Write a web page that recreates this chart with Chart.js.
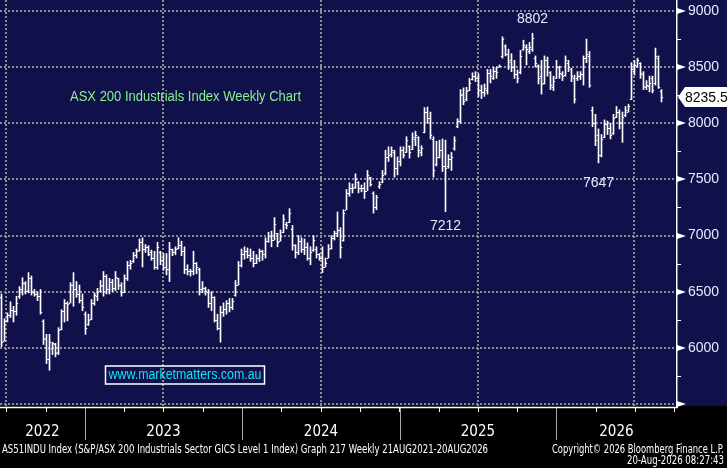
<!DOCTYPE html>
<html>
<head>
<meta charset="utf-8">
<script src="https://cdn.jsdelivr.net/npm/chart.js@4.4.0/dist/chart.umd.min.js"></script>
<style>
  html, body { margin: 0; padding: 0; background: #000; }
  #wrap { width: 727px; height: 468px; }
</style>
</head>
<body>
<div id="wrap"><canvas id="asxChart" width="727" height="468"></canvas></div>
<script>
// weekly bars, AS51INDU (visible window mid 2022 -> Aug 2026)
const opens = [
  6450, 6060, 6240, 6290, 6340, 6330, 6460, 6520, 6580, 6510,
  6620, 6500, 6480, 6460, 6240, 6090, 5900, 6000, 6030, 5960,
  6170, 6330, 6400, 6400, 6560, 6520, 6480, 6430, 6300, 6210,
  6260, 6400, 6460, 6510, 6560, 6640, 6520, 6590, 6530, 6620,
  6560, 6500, 6620, 6740, 6770, 6830, 6870, 6940, 6880, 6900,
  6850, 6800, 6720, 6850, 6780, 6720, 6700, 6880, 6850, 6890,
  6920, 6860, 6700, 6680, 6680, 6760, 6700, 6520, 6530, 6500,
  6400, 6450, 6250, 6180, 6320, 6350, 6400, 6360, 6470, 6560,
  6740, 6840, 6860, 6830, 6800, 6760, 6800, 6860, 6840, 6950,
  7000, 6960, 7020, 6950, 7030, 7100, 7120, 7060, 6920, 6850,
  6950, 6880, 6900, 6800, 6870, 6880, 6840, 6800, 6720, 6800,
  6890, 6980, 7020, 7050, 6960, 7230, 7380, 7420, 7430, 7480,
  7420, 7420, 7400, 7520, 7380, 7250, 7440, 7480, 7560, 7700,
  7730, 7740, 7600, 7660, 7760, 7740, 7800, 7770, 7860, 7880,
  7740, 7920, 8100, 8050, 7860, 7640, 7700, 7760, 7620, 7620,
  7680, 7780, 7980, 8020, 8260, 8220, 8300, 8390, 8420, 8400,
  8300, 8280, 8300, 8450, 8400, 8470, 8500, 8600, 8690, 8620,
  8560, 8500, 8440, 8460, 8660, 8680, 8640, 8660, 8580, 8520,
  8420, 8360, 8560, 8460, 8320, 8400, 8500, 8440, 8430, 8540,
  8480, 8400, 8400, 8420, 8440, 8580, 8600, 8120, 8000, 7900,
  7720, 7880, 7990, 7960, 7910, 8060, 8100, 8000, 8070, 8100,
  8220, 8470, 8510, 8540, 8440, 8320, 8330, 8400, 8360, 8580,
  8290
];
const highs = [
  6480, 6260, 6310, 6410, 6370, 6460, 6545, 6625, 6590, 6670,
  6640, 6520, 6500, 6520, 6250, 6120, 6120, 6050, 6040, 6180,
  6340, 6430, 6410, 6580, 6670, 6590, 6560, 6480, 6320, 6300,
  6430, 6490, 6530, 6600, 6680, 6650, 6620, 6610, 6680, 6620,
  6580, 6650, 6770, 6780, 6850, 6880, 6970, 6980, 6920, 6910,
  6870, 6860, 6940, 6860, 6840, 6840, 6940, 6880, 6900, 6980,
  6950, 6900, 6740, 6700, 6860, 6760, 6710, 6590, 6540, 6520,
  6500, 6455, 6300, 6370, 6400, 6420, 6440, 6440, 6600, 6770,
  6880, 6900, 6890, 6880, 6860, 6830, 6880, 6870, 6980, 7030,
  7040, 7160, 7020, 7050, 7185, 7120, 7240, 7090, 6920, 7000,
  6980, 6970, 6935, 6900, 7000, 6900, 6840, 6900, 6800, 6920,
  7000, 7040, 7210, 7070, 7230, 7410, 7470, 7460, 7550, 7480,
  7450, 7470, 7580, 7520, 7390, 7360, 7480, 7580, 7760, 7790,
  7790, 7760, 7700, 7790, 7790, 7880, 7800, 7915, 7930, 7880,
  7800, 8140, 8145, 8100, 7880, 7840, 7850, 7860, 7850, 7720,
  7740, 7880, 8040, 8300, 8315, 8320, 8400, 8450, 8460, 8440,
  8340, 8350, 8480, 8480, 8500, 8500, 8520, 8770, 8700, 8660,
  8620, 8560, 8475, 8650, 8740, 8700, 8720, 8802, 8600, 8520,
  8560, 8600, 8590, 8460, 8420, 8560, 8510, 8460, 8600, 8560,
  8490, 8430, 8460, 8460, 8600, 8750, 8640, 8145, 8080, 7950,
  7900, 8030, 8020, 8000, 8080, 8150, 8120, 8100, 8150, 8170,
  8540, 8560, 8580, 8540, 8460, 8380, 8420, 8420, 8670, 8600,
  8300
];
const lows = [
  6010, 6060, 6230, 6270, 6230, 6290, 6440, 6470, 6480, 6490,
  6470, 6460, 6420, 6300, 6030, 5860, 5800, 5940, 5920, 5940,
  6160, 6230, 6240, 6400, 6370, 6450, 6400, 6330, 6120, 6200,
  6250, 6380, 6420, 6500, 6460, 6480, 6480, 6500, 6510, 6520,
  6460, 6490, 6600, 6700, 6760, 6800, 6860, 6720, 6850, 6820,
  6780, 6700, 6700, 6740, 6690, 6650, 6590, 6820, 6830, 6880,
  6820, 6660, 6650, 6640, 6650, 6660, 6470, 6490, 6470, 6360,
  6330, 6230, 6160, 6050, 6280, 6300, 6320, 6340, 6460, 6560,
  6720, 6790, 6800, 6770, 6720, 6750, 6770, 6780, 6800, 6940,
  6900, 6960, 6900, 6950, 7025, 7060, 7115, 6870, 6800, 6830,
  6850, 6830, 6780, 6740, 6860, 6800, 6780, 6670, 6720, 6800,
  6880, 6960, 6990, 6800, 6950, 7230, 7350, 7380, 7420, 7380,
  7390, 7330, 7400, 7440, 7200, 7230, 7420, 7470, 7540, 7660,
  7700, 7520, 7540, 7620, 7690, 7740, 7690, 7765, 7800, 7700,
  7710, 7915, 8000, 7860, 7520, 7620, 7690, 7570, 7212, 7600,
  7580, 7760, 7960, 8000, 8165, 8200, 8290, 8385, 8370, 8240,
  8220, 8240, 8260, 8360, 8390, 8400, 8500, 8580, 8600, 8480,
  8460, 8400, 8360, 8440, 8650, 8520, 8620, 8640, 8500, 8350,
  8260, 8350, 8420, 8300, 8290, 8400, 8400, 8380, 8420, 8460,
  8370, 8180, 8380, 8390, 8340, 8540, 8320, 7970, 7800, 7647,
  7700, 7870, 7900, 7860, 7900, 8050, 7950, 7830, 8060, 8100,
  8210, 8430, 8500, 8400, 8300, 8300, 8280, 8270, 8340, 8310,
  8190
];
const closes = [
  6050, 6240, 6290, 6340, 6330, 6400, 6520, 6580, 6510, 6620,
  6500, 6480, 6460, 6320, 6080, 5900, 6050, 6040, 5950, 6160,
  6330, 6400, 6390, 6560, 6520, 6480, 6430, 6360, 6180, 6250,
  6400, 6470, 6500, 6550, 6640, 6520, 6590, 6530, 6630, 6560,
  6500, 6620, 6740, 6760, 6830, 6860, 6940, 6880, 6900, 6840,
  6800, 6720, 6900, 6780, 6720, 6700, 6880, 6850, 6880, 6920,
  6860, 6700, 6680, 6680, 6760, 6720, 6520, 6530, 6510, 6400,
  6450, 6250, 6180, 6320, 6350, 6400, 6360, 6420, 6560, 6740,
  6840, 6860, 6830, 6800, 6760, 6800, 6860, 6840, 6950, 7000,
  6960, 7100, 6940, 7000, 7150, 7090, 7200, 6920, 6850, 6950,
  6880, 6900, 6800, 6850, 6960, 6840, 6800, 6720, 6760, 6880,
  6980, 7020, 7050, 6900, 7200, 7380, 7420, 7420, 7500, 7420,
  7420, 7400, 7540, 7460, 7250, 7340, 7460, 7540, 7700, 7720,
  7760, 7600, 7660, 7760, 7720, 7850, 7740, 7880, 7900, 7760,
  7780, 8100, 8050, 7900, 7580, 7700, 7760, 7620, 7600, 7680,
  7700, 7850, 8020, 8250, 8200, 8290, 8360, 8420, 8400, 8300,
  8280, 8310, 8450, 8420, 8470, 8460, 8510, 8750, 8620, 8550,
  8500, 8440, 8400, 8600, 8700, 8660, 8680, 8760, 8540, 8400,
  8350, 8560, 8500, 8340, 8380, 8500, 8450, 8420, 8560, 8500,
  8420, 8220, 8420, 8440, 8580, 8620, 8340, 8000, 7850, 7720,
  7860, 7990, 7960, 7900, 8050, 8100, 8000, 8060, 8120, 8150,
  8480, 8520, 8560, 8450, 8330, 8340, 8360, 8300, 8600, 8320,
  8235.5
];

const yTicks = [5500, 6000, 6500, 7000, 7500, 8000, 8500, 9000];
const yMinorTicks = [5750, 6250, 6750, 7250, 7750, 8250, 8750];
// week index where each calendar year starts (2023..2026)
const yearStarts = [27.8, 80.2, 132.8, 184.8];
const yearLabels = ['2022', '2023', '2024', '2025', '2026'];
// highlighted extremes: [week, value, label]
const callouts = [[177, 8802, '8802'], [148, 7212, '7212'], [199, 7647, '7647']];
const lastPrice = 8235.5;

const weeks = closes.map((c, i) => i);
const navy = '#10104a';
const dotGrey = '#8e8e8e';
const labelColor = '#e4ebff';

const bbgLook = {
  id: 'bbgLook',
  beforeDraw(chart) {
    const ctx = chart.ctx;
    const area = chart.chartArea;
    ctx.save();
    ctx.fillStyle = navy;
    ctx.fillRect(0, 0, chart.width, chart.height);
    ctx.fillStyle = '#000';
    ctx.fillRect(0, area.bottom, chart.width, chart.height - area.bottom);
    ctx.restore();
  },
  afterDatasetsDraw(chart) {
    // open tick to the left, close tick to the right of each high-low bar
    const ctx = chart.ctx;
    const x = chart.scales.x, y = chart.scales.y;
    ctx.save();
    ctx.strokeStyle = '#fff';
    ctx.lineWidth = 1;
    ctx.beginPath();
    weeks.forEach(i => {
      const px = Math.floor(x.getPixelForValue(i));
      const yo = Math.round(y.getPixelForValue(opens[i])) + 0.5;
      const yc = Math.round(y.getPixelForValue(closes[i])) + 0.5;
      ctx.moveTo(px - 1.2, yo); ctx.lineTo(px, yo);
      ctx.moveTo(px + 1, yc); ctx.lineTo(px + 2.2, yc);
    });
    ctx.stroke();
    ctx.restore();
  },
  afterDraw(chart) {
    const ctx = chart.ctx;
    const area = chart.chartArea;
    const x = chart.scales.x, y = chart.scales.y;
    const axisX = area.right;
    const base = area.bottom;
    ctx.save();

    // y axis: arrows at major ticks, small marks at minor ticks
    ctx.fillStyle = '#fff';
    yTicks.forEach(v => {
      const py = Math.round(y.getPixelForValue(v));
      ctx.beginPath();
      ctx.moveTo(axisX, py - 3);
      ctx.lineTo(axisX + 9, py);
      ctx.lineTo(axisX, py + 3);
      ctx.closePath();
      ctx.fill();
    });
    ctx.strokeStyle = '#fff';
    ctx.lineWidth = 1;
    yMinorTicks.forEach(v => {
      const py = Math.round(y.getPixelForValue(v)) + 0.5;
      ctx.beginPath();
      ctx.moveTo(axisX, py); ctx.lineTo(axisX + 4, py);
      ctx.stroke();
    });

    // bottom time axis
    ctx.lineWidth = 1.5;
    ctx.beginPath();
    ctx.moveTo(0, base + 1.5); ctx.lineTo(axisX + 1, base + 1.5);
    ctx.stroke();
    const bounds = [area.left].concat(yearStarts.map(w => x.getPixelForValue(w)), [axisX]);
    const yearLen = x.getPixelForValue(yearStarts[1]) - x.getPixelForValue(yearStarts[0]);
    const first = x.getPixelForValue(yearStarts[0]);
    ctx.lineWidth = 1;
    for (let q = -4; q < 24; q++) {
      const qx = Math.round(first + q * yearLen / 4) + 0.5;
      if (qx < area.left || qx > axisX) continue;
      ctx.beginPath();
      ctx.moveTo(qx, base + 2); ctx.lineTo(qx, base + 6);
      ctx.stroke();
    }
    ctx.strokeStyle = '#a8a8a8';
    yearStarts.forEach(w => {
      const px = Math.round(x.getPixelForValue(w)) + 0.5;
      ctx.beginPath();
      ctx.moveTo(px, base + 2); ctx.lineTo(px, base + 34);
      ctx.stroke();
    });

    // year labels centred in their visible span
    ctx.fillStyle = '#fff';
    ctx.font = '15px "Liberation Sans Narrow", "DejaVu Sans Condensed", sans-serif';
    ctx.textAlign = 'center';
    ctx.textBaseline = 'middle';
    yearLabels.forEach((lab, k) => {
      ctx.fillText(lab, (bounds[k] + bounds[k + 1]) / 2, 432);
    });

    // footer
    ctx.font = '12px "Liberation Sans Narrow", "DejaVu Sans Condensed", sans-serif';
    ctx.textAlign = 'left';
    ctx.fillText('AS51INDU Index (S&P/ASX 200 Industrials Sector GICS Level 1 Index) Graph 217 Weekly 21AUG2021-20AUG2026', 2, 450, 486);
    ctx.textAlign = 'right';
    ctx.fillText('Copyright\u00a9 2026 Bloomberg Finance L.P.', 724, 450, 172);
    ctx.fillText('20-Aug-2026 08:27:43', 724, 461, 97);

    // high / low callouts
    ctx.font = '14px "Liberation Sans", Arial, sans-serif';
    ctx.fillStyle = labelColor;
    ctx.textAlign = 'center';
    callouts.forEach(([w, v, lab]) => {
      const px = x.getPixelForValue(w);
      const py = y.getPixelForValue(v);
      const dy = v === 8802 ? -14 : (v === 7212 ? 14 : 20);
      ctx.fillText(lab, px, py + dy);
    });

    // last price tag
    const ly = Math.round(y.getPixelForValue(lastPrice));
    ctx.fillStyle = '#fff';
    ctx.beginPath();
    ctx.moveTo(axisX + 1, ly);
    ctx.lineTo(axisX + 8, ly - 10);
    ctx.lineTo(727, ly - 10);
    ctx.lineTo(727, ly + 10);
    ctx.lineTo(axisX + 8, ly + 10);
    ctx.closePath();
    ctx.fill();
    ctx.fillStyle = '#000';
    ctx.textAlign = 'left';
    ctx.fillText(String(lastPrice), axisX + 8, ly + 1);

    // title and website box
    ctx.fillStyle = '#8cf08c';
    ctx.fillText('ASX 200 Industrials Index Weekly Chart', 70, 97, 231);
    ctx.strokeStyle = '#fff';
    ctx.lineWidth = 1.5;
    ctx.strokeRect(105.5, 366, 159, 18);
    ctx.fillStyle = '#10e4f0';
    ctx.textAlign = 'center';
    ctx.fillText('www.marketmatters.com.au', 185, 375.5, 153);

    ctx.restore();
  }
};

const ctx = document.getElementById('asxChart').getContext('2d');
const myChart = new Chart(ctx, {
  type: 'bar',
  data: {
    datasets: [{
      label: 'AS51INDU',
      data: weeks.map(i => ({ x: i, y: [lows[i], highs[i]] })),
      backgroundColor: '#fff',
      borderWidth: 0,
      barThickness: 1,
      grouped: false
    }]
  },
  options: {
    responsive: false,
    animation: false,
    devicePixelRatio: 1,
    layout: { padding: { left: 0, right: 0, top: 0, bottom: 62 } },
    plugins: { legend: { display: false }, tooltip: { enabled: false } },
    scales: {
      x: {
        type: 'linear',
        min: -0.5,
        max: 225.17,
        offset: false,
        afterBuildTicks: s => { s.ticks = yearStarts.map(v => ({ value: v })); },
        afterFit: s => { s.height = 0; s.paddingLeft = 0; s.paddingRight = 0; },
        ticks: { display: false },
        grid: { color: dotGrey, lineWidth: 2, drawTicks: false },
        border: { display: false, dash: [2, 2] }
      },
      y: {
        position: 'right',
        min: 5482,
        max: 9098,
        afterBuildTicks: s => { s.ticks = yTicks.map(v => ({ value: v })); },
        afterFit: s => { s.width = 50; s.paddingTop = 0; s.paddingBottom = 0; },
        ticks: {
          padding: 11,
          color: labelColor,
          font: { family: '"Liberation Sans", Arial, sans-serif', size: 14 },
          callback: v => (v === 5500 ? '' : String(v))
        },
        grid: { color: dotGrey, lineWidth: 2, drawTicks: false },
        border: { display: true, color: '#fff', width: 1.5, dash: [2, 2] }
      }
    }
  },
  plugins: [bbgLook]
});
</script>
</body>
</html>
